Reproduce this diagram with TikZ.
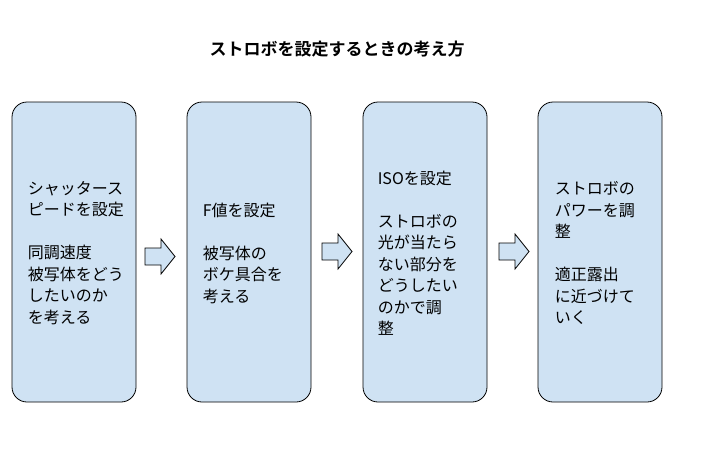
\documentclass[tikz,border=0pt]{standalone}
\usepackage{fontspec}
\setmainfont{Noto Sans CJK JP}
\newfontfamily\titlefont{Noto Sans CJK JP Bold}
\definecolor{boxblue}{HTML}{CFE2F3}
\tikzset{
  stepbox/.style={draw=black, line width=0.8pt, fill=boxblue, rounded corners=15pt,
    minimum width=124pt, minimum height=300pt, inner sep=0pt},
  boxtext/.style={align=left, anchor=west, inner sep=0pt,
    font=\fontsize{16}{21.5}\selectfont},
  blockarrow/.style={draw=black, line width=0.8pt, fill=boxblue, line join=miter}
}
\begin{document}
\begin{tikzpicture}[x=1pt,y=-1pt]
\useasboundingbox (0,0) rectangle (719,451);
\node[font=\titlefont\fontsize{17}{20}\selectfont] (title) at (337,49) {ストロボを設定するときの考え方};
\node[stepbox] (b1) at (74,252) {};
\node[stepbox] (b2) at (249,252) {};
\node[stepbox] (b3) at (425,252) {};
\node[stepbox] (b4) at (600,252) {};
\node[boxtext] (t1) at ([xshift=16pt,yshift=-1pt]b1.west) {シャッタース\\ピードを設定\\[21.5pt]同調速度\\被写体をどう\\したいのか\\を考える};
\node[boxtext] (t2) at ([xshift=16pt,yshift=-1pt]b2.west) {F値を設定\\[21.5pt]被写体の\\ボケ具合を\\考える};
\node[boxtext] (t3) at ([xshift=15pt,yshift=-1pt]b3.west) {ISOを設定\\[21.5pt]ストロボの\\光が当たら\\ない部分を\\どうしたい\\のかで調\\整};
\node[boxtext] (t4) at ([xshift=17pt,yshift=-1pt]b4.west) {ストロボの\\パワーを調\\整\\[21.5pt]適正露出\\に近づけて\\いく};
\coordinate (a1) at (145,256.5);
\coordinate (a2) at (322,251.5);
\coordinate (a3) at (499,251.5);
\foreach \a in {a1,a2,a3}{
  \draw[blockarrow] (\a) ++(0,-8.5) -- ++(16,0) -- ++(0,-9) -- ++(14,17.5) -- ++(-14,17.5) -- ++(0,-9) -- ++(-16,0) -- cycle;
}
\end{tikzpicture}
\end{document}
